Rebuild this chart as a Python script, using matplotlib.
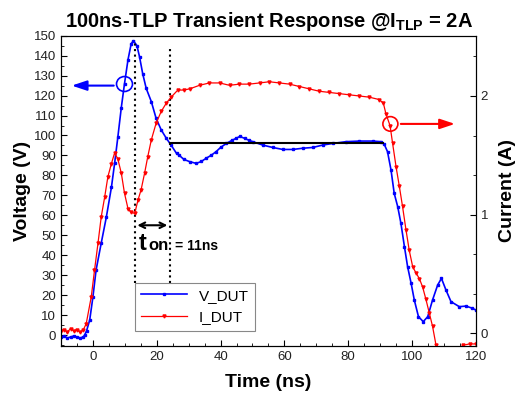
import matplotlib
matplotlib.use('Agg')
import matplotlib.pyplot as plt
from matplotlib.patches import Ellipse
from matplotlib.ticker import MultipleLocator, FixedLocator

plt.rcParams['font.family'] = ['Liberation Sans', 'DejaVu Sans']
plt.rcParams['mathtext.fontset'] = 'custom'
plt.rcParams['mathtext.rm'] = 'Liberation Sans'
plt.rcParams['mathtext.bf'] = 'Liberation Sans:bold'

# V_DUT (V) vs time (ns)
t_v = [-10, -9, -8, -7, -6, -5, -4, -3, -2.6, -2, -1, 0, 1, 2.6, 4.2, 5.8, 6.8, 7.8,
       8.9, 9.9, 11, 12, 12.7, 13.8, 14.6, 15.6, 16.7, 18.3, 19.8, 21.4, 23, 24.5,
       26.2, 27.1, 28.5, 30.3, 32.4, 34, 35.5, 37, 38.6, 40, 41.8, 43.5, 44.9, 46,
       47.5, 49, 50.1, 53.2, 56.3, 59.5, 62.6, 65.7, 68.9, 72, 75.1, 79.3, 83.5,
       87.6, 90.3, 91.3, 92.3, 93.4, 94.4, 95.5, 96.5, 97.6, 98.6, 99.7, 100.7, 102,
       103.5, 104.9, 106.4, 108, 109.2, 110.6, 112.2, 114.8, 116.9, 118.9, 120]
v_dut = [-1, -0.5, -1.5, -1, -0.5, -1, -1.5, -1, 0, 2, 7.5, 19, 32.6, 46, 59, 74, 86, 99,
         114, 126, 138, 146, 147.5, 145, 139.5, 131, 123.6, 117, 108.6, 102.8, 98.6, 95.2,
         91, 90, 88, 86.9, 86, 87, 88.6, 90, 91.9, 94, 96, 97.5, 98.6, 99.5,
         98.6, 97.5, 96.9, 95.2, 94, 93, 93, 93.6, 94, 95.2, 96, 96.9, 97.2,
         97.2, 96.9, 95.5, 91.9, 82.7, 71, 64.3, 56, 44.3, 34.2, 25.9, 17.5, 9.2,
         6.7, 9.2, 17.5, 25, 28.4, 22.6, 16.7, 14.2, 14.5, 13.4, 12.5]

# I_DUT (A) vs time (ns)
t_i = [-10, -9, -8, -7, -6, -5, -4, -3, -2.1, -0.5, 0.5, 1.6, 2.6, 3.7, 4.7, 5.8, 6.8,
       7.8, 8.9, 9.9, 11, 12, 13.1, 14.1, 15.1, 16.2, 17.2, 18.3, 19.8, 21.4, 23, 24.5,
       26.6, 28.5, 30.3, 33.4, 36.5, 39.7, 42.8, 45.9, 49, 52.2, 55.3, 58.4, 61.6,
       64.7, 67.8, 70.9, 74.1, 77.2, 80.3, 83.5, 86.6, 89.7, 91, 91.8, 93.1, 93.9,
       95, 96, 97, 98.1, 99.1, 100.2, 101.2, 102.3, 103.3, 104.3, 105.4, 106.4,
       107.5, 109, 112, 114, 116, 118, 120]
i_dut = [0.02, 0.03, 0.01, 0.04, 0.02, 0.03, 0.01, 0.03, 0.08, 0.31, 0.53, 0.76, 0.98,
         1.15, 1.32, 1.43, 1.52, 1.47, 1.35, 1.18, 1.05, 1.02, 1.01, 1.12, 1.21, 1.35,
         1.49, 1.63, 1.77, 1.87, 1.94, 1.99, 2.05, 2.05, 2.06, 2.09, 2.11, 2.11, 2.09,
         2.10, 2.10, 2.11, 2.12, 2.11, 2.10, 2.08, 2.06, 2.04, 2.03, 2.02, 2.01, 2.0,
         1.99, 1.97, 1.94, 1.85, 1.75, 1.60, 1.40, 1.24, 1.07, 0.87, 0.70, 0.56, 0.51,
         0.46, 0.39, 0.29, 0.17, 0.06, -0.10, -0.14, -0.15, -0.14, -0.10, -0.09, -0.09]

# annotation values
t_on_start, t_on_end = 13.05, 24.2
v_plateau = 96

fig = plt.figure(figsize=(5.19, 3.96), dpi=100)
ax = fig.add_axes([0.1175, 0.1263, 0.7995, 0.7835])
ax2 = ax.twinx()

ax.plot(t_v, v_dut, color='#0000ff', lw=1.2, marker='s', ms=2, label='V_DUT')
ax2.plot(t_i, i_dut, color='#ff0000', lw=0.9, marker='v', ms=2.2, label='I_DUT')

ax.set_xlim(-10, 120)
ax.set_ylim(-5.5, 150)
ax2.set_ylim(-0.107, 2.508)

ax.xaxis.set_major_locator(MultipleLocator(20))
ax.xaxis.set_minor_locator(MultipleLocator(5))
ax.yaxis.set_major_locator(MultipleLocator(10))
ax.yaxis.set_minor_locator(MultipleLocator(5))
ax2.yaxis.set_major_locator(FixedLocator([0, 1, 2]))
ax2.yaxis.set_minor_locator(FixedLocator([1/3, 2/3, 4/3, 5/3, 7/3]))

ax.tick_params(which='both', direction='in', top=False, right=False, labelsize=9.5,
               labelcolor='#222222')
ax.tick_params(which='major', length=4)
ax.tick_params(which='minor', length=2.5)
ax2.tick_params(which='both', direction='in', labelsize=9.5, labelcolor='#222222')
ax2.tick_params(which='major', length=4)
ax2.tick_params(which='minor', length=2.5)

ax.set_xlabel('Time (ns)', fontsize=14, fontweight='bold', va='center')
ax.xaxis.set_label_coords(0.5, -0.119)
ax.set_ylabel('Voltage (V)', fontsize=14, fontweight='bold', va='center')
ax.yaxis.set_label_coords(-0.092, 0.5)
ax2.set_ylabel('Current (A)', fontsize=14, fontweight='bold', va='center', rotation=90)
ax2.yaxis.set_label_coords(1.077, 0.5)

fig.text(0.518, 0.932, r'100ns-TLP Transient Response @I$_{\mathbf{TLP}}$ = 2A',
         fontsize=14.5, fontweight='bold', ha='center', va='baseline')

# ton markers
ax.plot([t_on_start, t_on_start], [26, 148], color='black', ls=':', lw=1.5)
ax.plot([t_on_end, t_on_end], [26, 145], color='black', ls=':', lw=1.5)
ax.plot([t_on_end, 91], [v_plateau, v_plateau], color='black', lw=1.5)
ax.annotate('', xy=(t_on_start, 55), xytext=(t_on_end, 55),
            arrowprops=dict(arrowstyle='<->', color='black', lw=1.5))
ax.text(14.4, 42.6, 't', fontsize=17, fontweight='bold', va='baseline')
ax.text(17.3, 42.6, 'on', fontsize=12, fontweight='bold', va='baseline')
ax.text(25.7, 42.6, '= 11ns', fontsize=10, fontweight='bold', va='baseline')

# axis indicator circles and arrows
ax.add_patch(Ellipse((9.9, 125.8), 5.0, 7.5, fill=False, ec='#0000ff', lw=1.2))
ax.annotate('', xy=(-7.5, 125), xytext=(7.4, 125),
            arrowprops=dict(arrowstyle='-|>,head_length=0.9,head_width=0.3',
                            color='#0000ff', lw=1.5))
ax.add_patch(Ellipse((93.2, 105.8), 4.7, 7.3, fill=False, ec='#ff0000', lw=1.2))
ax.annotate('', xy=(114.3, 105.8), xytext=(95.6, 105.8),
            arrowprops=dict(arrowstyle='-|>,head_length=0.9,head_width=0.3',
                            color='#ff0000', lw=1.5))

h1, l1 = ax.get_legend_handles_labels()
h2, l2 = ax2.get_legend_handles_labels()
leg = ax2.legend(h1 + h2, l1 + l2, loc='upper left', bbox_to_anchor=(0.178, 0.204),
                 borderaxespad=0, fancybox=False, edgecolor='#888888', fontsize=11,
                 numpoints=1, handlelength=3, framealpha=1)
leg.get_frame().set_linewidth(0.8)

fig.savefig('out.png', dpi=100)
